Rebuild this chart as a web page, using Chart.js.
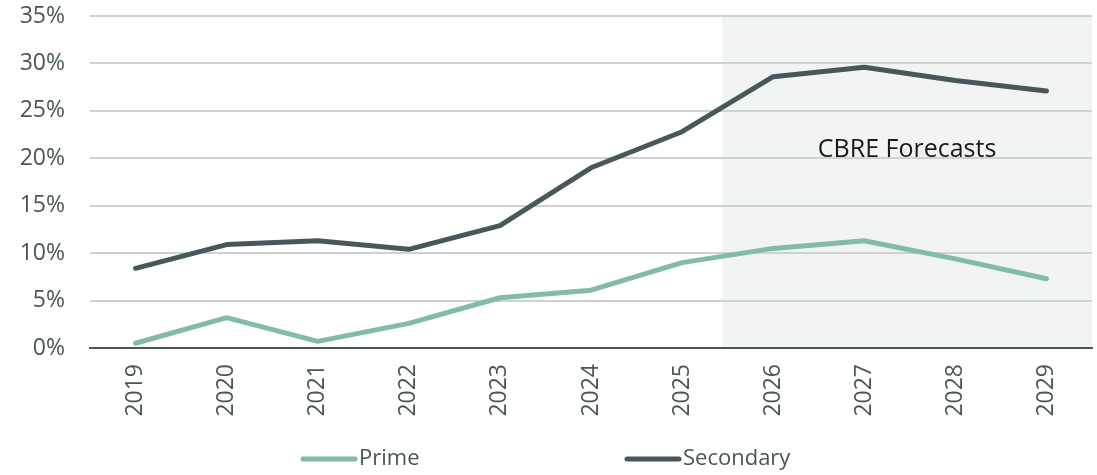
<!DOCTYPE html>
<html lang="en">
<head>
    <meta charset="UTF-8">
    <title>Prime vs Secondary</title>
    <script src="https://cdn.jsdelivr.net/npm/chart.js@4/dist/chart.umd.min.js"></script>
    <style>
        body { margin: 0; background: #fff; }
        #wrap { width: 1097px; height: 475px; }
    </style>
</head>
<body>
    <div id="wrap"><canvas id="myChart"></canvas></div>

    <script type="text/javascript">
        var years = ["2019", "2020", "2021", "2022", "2023", "2024", "2025", "2026", "2027", "2028", "2029"];
        var prime = [0.5, 3.2, 0.7, 2.6, 5.3, 6.1, 9.0, 10.5, 11.3, 9.4, 7.3];
        var secondary = [8.4, 10.9, 11.3, 10.4, 12.9, 19.0, 22.8, 28.6, 29.6, 28.2, 27.1];
        var yTicks = [0, 5, 10, 15, 20, 25, 30, 35];
        var forecastFrom = "2026";
        var forecastLabel = "CBRE Forecasts";

        var FONT = "'Open Sans', sans-serif";
        var GREY = '#4a5558';

        function forecastLeft(chart) {
            var x = chart.scales.x;
            var i = years.indexOf(forecastFrom);
            var step = x.getPixelForValue(1) - x.getPixelForValue(0);
            return x.getPixelForValue(i) - step * 0.56;
        }

        // grey box behind the forecast years, with its caption
        var forecastBox = {
            id: 'forecastBox',
            beforeDraw: function (chart) {
                var ctx = chart.ctx, area = chart.chartArea;
                var left = forecastLeft(chart);
                ctx.save();
                ctx.fillStyle = '#f2f4f3';
                ctx.fillRect(left, area.top, area.right - left, area.bottom - area.top);
                ctx.restore();
            },
            afterDatasetsDraw: function (chart) {
                var ctx = chart.ctx, area = chart.chartArea;
                var left = forecastLeft(chart);
                ctx.save();
                ctx.fillStyle = '#1a1a1a';
                ctx.font = '25px ' + FONT;
                ctx.textAlign = 'center';
                ctx.textBaseline = 'middle';
                ctx.fillText(forecastLabel, (left + area.right) / 2, chart.scales.y.getPixelForValue(20.9));
                ctx.restore();
            }
        };

        // simple line legend along the bottom
        var bottomLegend = {
            id: 'bottomLegend',
            afterDraw: function (chart) {
                var ctx = chart.ctx;
                var starts = [303, 627];
                var yy = 459;
                ctx.save();
                ctx.font = '22px ' + FONT;
                ctx.textBaseline = 'middle';
                chart.data.datasets.forEach(function (ds, k) {
                    ctx.strokeStyle = ds.borderColor;
                    ctx.lineWidth = 5;
                    ctx.lineCap = 'round';
                    ctx.beginPath();
                    ctx.moveTo(starts[k], yy);
                    ctx.lineTo(starts[k] + 52, yy);
                    ctx.stroke();
                    ctx.fillStyle = GREY;
                    ctx.fillText(ds.label, starts[k] + 56, yy);
                });
                ctx.restore();
            }
        };

        var ctx = document.getElementById('myChart').getContext('2d');
        var chart = new Chart(ctx, {
            type: 'line',
            data: {
                labels: years,
                datasets: [{
                    label: "Prime",
                    borderColor: '#82bbac',
                    data: prime
                }, {
                    label: "Secondary",
                    borderColor: '#485759',
                    data: secondary
                }]
            },
            options: {
                responsive: true,
                maintainAspectRatio: false,
                animation: false,
                layout: { autoPadding: false, padding: { left: 20, right: 5, top: 16, bottom: 44 } },
                elements: {
                    line: { borderWidth: 5, tension: 0, borderCapStyle: 'round', borderJoinStyle: 'round' },
                    point: { radius: 0 }
                },
                plugins: {
                    legend: { display: false },
                    tooltip: { enabled: false }
                },
                scales: {
                    x: {
                        offset: true,
                        grid: { display: false, drawTicks: false },
                        border: { color: GREY, width: 2 },
                        ticks: {
                            color: GREY,
                            font: { family: FONT, size: 23 },
                            minRotation: 90,
                            maxRotation: 90,
                            padding: 16
                        },
                        afterFit: function (axis) {
                            axis.height = 83;
                            axis.paddingLeft = 0;
                            axis.paddingRight = 0;
                        }
                    },
                    y: {
                        min: 0,
                        max: 35,
                        afterBuildTicks: function (axis) {
                            axis.ticks = yTicks.map(function (v) { return { value: v }; });
                        },
                        grid: { color: '#cdd3d3', lineWidth: 2, drawTicks: false },
                        border: { display: false },
                        ticks: {
                            color: GREY,
                            font: { family: FONT, size: 23 },
                            padding: 25,
                            callback: function (v) { return v + '%'; }
                        },
                        afterFit: function (axis) {
                            axis.width = 70;
                            axis.paddingTop = 0;
                            axis.paddingBottom = 0;
                        }
                    }
                }
            },
            plugins: [forecastBox, bottomLegend]
        });
    </script>
</body>
</html>
